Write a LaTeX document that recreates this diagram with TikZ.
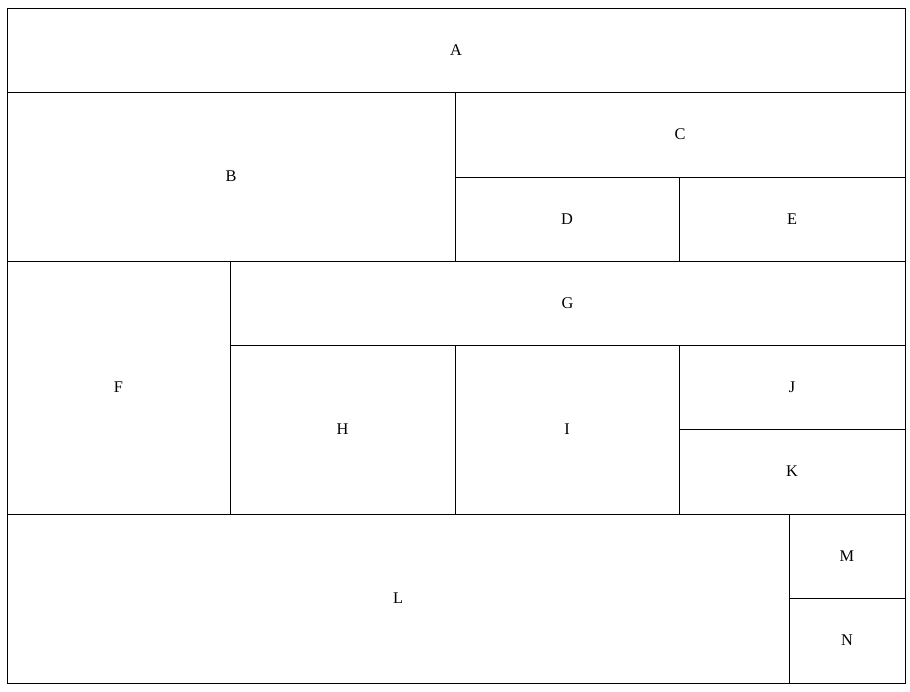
\documentclass[tikz,border=0pt]{standalone}
\usepackage{fontspec}
\setmainfont{Liberation Serif}
\begin{document}
\begin{tikzpicture}[x=0.02cm, y=-0.02cm, line width=.55pt]
\useasboundingbox (0,0) rectangle (910,692);
\foreach \n/\xa/\ya/\xb/\yb in {A/7/8/905/92, B/7/92/455/261, C/455/92/905/177,
  D/455/177/679/261, E/679/177/905/261, F/7/261/230/514, G/230/261/905/345,
  H/230/345/455/514, I/455/345/679/514, J/679/345/905/429, K/679/429/905/514,
  L/7/514/789/683, M/789/514/905/598, N/789/598/905/683}
{
\draw (\xa,\ya) rectangle (\xb,\yb);
\node[font=\fontsize{9.3}{11}\selectfont] (\n) at ({(\xa+\xb)/2},{(\ya+\yb)/2}) {\n};
}
\end{tikzpicture}
\end{document}
